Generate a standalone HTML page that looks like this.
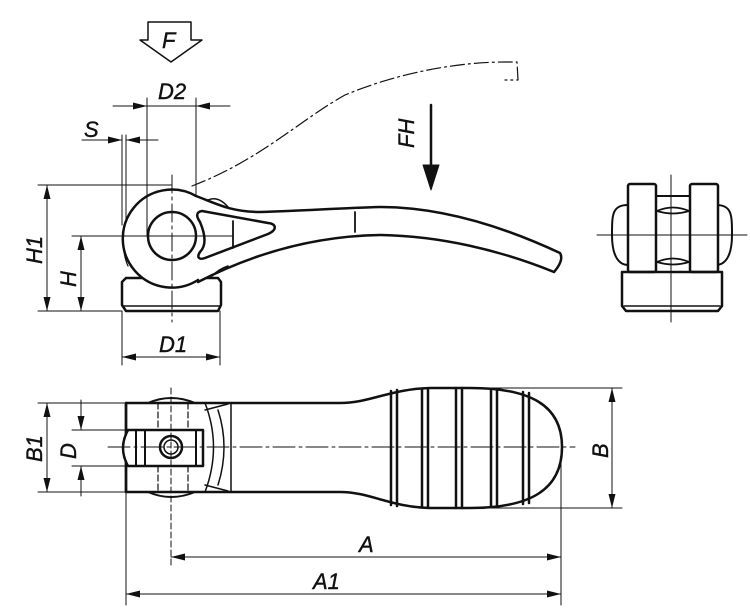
<!DOCTYPE html>
<html><head><meta charset="utf-8"><style>
html,body{margin:0;padding:0;background:#fff;}
svg{display:block}
text{font-family:"Liberation Sans Narrow","Liberation Sans",sans-serif;font-style:italic;font-size:22px;fill:#111;stroke:#111;stroke-width:0.4}
</style></head><body>
<svg width="750" height="608" viewBox="0 0 750 608" xmlns="http://www.w3.org/2000/svg">
<defs>
<marker id="ar" viewBox="0 0 10 10" refX="10" refY="5" markerWidth="14" markerHeight="7" markerUnits="userSpaceOnUse" orient="auto-start-reverse" preserveAspectRatio="none"><path d="M0,0 L10,5 L0,10 z" fill="#111"/></marker>
</defs>
<g stroke="#111" fill="none" stroke-linecap="round" stroke-linejoin="round">
<!-- F arrow -->
<path d="M148,22 H191 V40 H202 L171,62 L140,40 H148 Z" stroke-width="1.5"/>
<!-- phantom lever -->
<path d="M192,186 C260,160 300,120 345,95 C400,72 460,62 505,62 L517,62 L518,80 L505,80" stroke-width="1.2" stroke-dasharray="14,4,2,4"/>
<!-- FH arrow -->
<line x1="431" y1="105" x2="431" y2="170" stroke-width="2.5"/>
<path d="M423,165 L439,165 L431,190 Z" fill="#111" stroke-width="1"/>
<!-- side view: base -->
<path d="M126,278 H218 L221,282 V305 L218,311 H126 L122,305 V282 Z" stroke-width="2.5"/>
<line x1="124" y1="306" x2="220" y2="306" stroke-width="1.5"/>
<!-- lever -->
<path d="M196,196 C215,203 230,212 260,212 C300,211 340,208 380,207 C440,207 500,225 560,253 C563,258 560,265 554,272 C500,250 440,236 380,235 C320,236 260,250 198,282" stroke-width="2.5" fill="#fff"/>
<path d="M208,200 C215,197 222,200 228,207" stroke-width="1.5"/>
<path d="M212,276 C216,272 222,268 228,266" stroke-width="1.5"/>
<!-- cam outline -->
<path d="M196,196 A49,49 0 1 0 198,280" stroke-width="2.5" fill="#fff"/>
<circle cx="172" cy="236" r="24" stroke-width="2.5"/>
<path d="M125,222 C122,240 123,255 128,266" stroke-width="1.2"/>
<!-- triangle cutout -->
<path d="M202,211 C196,212 196,216 200,222 C206,236 206,246 200,252 C196,258 200,260 205,258 L268,234 C277,230 277,224 268,223 Z" stroke-width="2.5" fill="#fff"/>
<line x1="233" y1="221" x2="233" y2="248" stroke-width="1.8"/>
<line x1="355" y1="212" x2="355" y2="232" stroke-width="1.8"/>
<!-- centerlines -->
<g stroke-width="1">
<line x1="172" y1="175" x2="172" y2="322" stroke-dasharray="18,4,3,4"/>
<line x1="140" y1="236" x2="232" y2="236"/>
</g>
<!-- dims side -->
<g stroke-width="1">
<line x1="38" y1="185" x2="172" y2="185"/>
<line x1="38" y1="311" x2="122" y2="311"/>
<line x1="72" y1="236" x2="148" y2="236"/>
<line x1="47" y1="185" x2="47" y2="311" marker-start="url(#ar)" marker-end="url(#ar)"/>
<line x1="81" y1="236" x2="81" y2="311" marker-start="url(#ar)" marker-end="url(#ar)"/>
<line x1="147" y1="98" x2="147" y2="236"/>
<line x1="196" y1="98" x2="196" y2="196"/>
<line x1="113" y1="106" x2="147" y2="106" marker-end="url(#ar)"/>
<line x1="147" y1="106" x2="196" y2="106"/>
<line x1="230" y1="106" x2="196" y2="106" marker-end="url(#ar)"/>
<line x1="122" y1="135" x2="122" y2="225"/>
<line x1="126" y1="135" x2="126" y2="220"/>
<line x1="82" y1="140" x2="122" y2="140" marker-end="url(#ar)"/>
<line x1="158" y1="140" x2="126" y2="140" marker-end="url(#ar)"/>
<line x1="122" y1="311" x2="122" y2="365"/>
<line x1="220" y1="311" x2="220" y2="365"/>
<line x1="122" y1="357" x2="220" y2="357" marker-start="url(#ar)" marker-end="url(#ar)"/>
</g>
<!-- right view -->
<path d="M628,205 C612,205 612,215 612,235 C612,258 620,265 628,265 M716,205 C732,205 732,215 732,235 C732,258 724,265 716,265" stroke-width="2"/>
<rect x="628" y="184" width="28" height="88" rx="2" stroke-width="2.5" fill="#fff"/>
<rect x="690" y="184" width="28" height="88" rx="2" stroke-width="2.5" fill="#fff"/>
<line x1="656" y1="196" x2="690" y2="196" stroke-width="2"/>
<path d="M657,211 Q673,204 689,211 Q673,216 657,211 M657,262 Q673,255 689,262 Q673,267 657,262" stroke-width="1.8"/>
<path d="M626,272 H722 V306 L718,311 H626 L622,306 V272 Z" stroke-width="2.5"/>
<line x1="624" y1="306" x2="720" y2="306" stroke-width="1.5"/>
<line x1="597" y1="235" x2="747" y2="235" stroke-width="1"/>
<line x1="671" y1="175" x2="671" y2="322" stroke-width="1"/>
<!-- bottom view -->
<path d="M148,403 Q171,393 195,403 M148,492 Q171,502 195,492" stroke-width="2"/>
<path d="M126,403 H340 C370,403 390,389 430,388 H470 C530,388 562,405 562,447 C562,490 530,508 470,508 H430 C390,507 370,492 340,492 H126 Z" stroke-width="2.5" fill="none"/>
<line x1="126" y1="403" x2="126" y2="492" stroke-width="2.5"/>
<path d="M205,403 L231,403 L231,492 L205,492 Q222,447 205,403 M205,410 L228,404 M205,485 L228,491 M218,410 Q230,447 218,485" stroke-width="1.5"/>
<g stroke-width="1.2"><line x1="158" y1="403" x2="158" y2="492" stroke-dasharray="6,3"/><line x1="188" y1="403" x2="188" y2="492" stroke-dasharray="6,3"/></g>
<path d="M128,430 H203 V466 H128 Q118,448 128,430" stroke-width="2.5" fill="#fff"/>
<g stroke-width="2"><line x1="136" y1="430" x2="136" y2="466"/><line x1="145" y1="430" x2="145" y2="466"/><line x1="196" y1="430" x2="196" y2="466"/></g>
<circle cx="171" cy="447" r="11" stroke-width="2.5" fill="#fff"/>
<circle cx="171" cy="447" r="7" stroke-width="1.5"/>
<g stroke-width="2.5">
<line x1="391" y1="391" x2="391" y2="505"/><line x1="397" y1="390" x2="397" y2="506"/>
<line x1="422" y1="389" x2="422" y2="507"/><line x1="428" y1="389" x2="428" y2="507"/>
<line x1="456" y1="388" x2="456" y2="508"/><line x1="462" y1="388" x2="462" y2="508"/>
<line x1="491" y1="389" x2="491" y2="507"/><line x1="497" y1="389" x2="497" y2="507"/>
<line x1="523" y1="392" x2="523" y2="504"/><line x1="529" y1="393" x2="529" y2="503"/>
</g>
<line x1="108" y1="447" x2="575" y2="447" stroke-width="1" stroke-dasharray="22,4,3,4"/>
<line x1="171" y1="388" x2="171" y2="568" stroke-width="1" stroke-dasharray="6,3"/>
<!-- bottom dims -->
<g stroke-width="1">
<line x1="38" y1="403" x2="126" y2="403"/>
<line x1="38" y1="492" x2="126" y2="492"/>
<line x1="72" y1="430" x2="128" y2="430"/>
<line x1="72" y1="466" x2="128" y2="466"/>
<line x1="47" y1="403" x2="47" y2="492" marker-start="url(#ar)" marker-end="url(#ar)"/>
<line x1="81" y1="400" x2="81" y2="430" marker-end="url(#ar)"/>
<line x1="81" y1="496" x2="81" y2="466" marker-end="url(#ar)"/>
<line x1="470" y1="388" x2="622" y2="388"/>
<line x1="470" y1="508" x2="622" y2="508"/>
<line x1="612" y1="388" x2="612" y2="508" marker-start="url(#ar)" marker-end="url(#ar)"/>
<line x1="126" y1="480" x2="126" y2="605"/>
<line x1="561" y1="460" x2="561" y2="605"/>
<line x1="171" y1="557" x2="561" y2="557" marker-start="url(#ar)" marker-end="url(#ar)"/>
<line x1="126" y1="594" x2="561" y2="594" marker-start="url(#ar)" marker-end="url(#ar)"/>
</g>
</g>
<!-- labels -->
<text x="162" y="48" font-size="26">F</text>
<text x="158" y="99">D2</text>
<text x="84" y="137">S</text>
<text x="159" y="352">D1</text>
<text x="359" y="552">A</text>
<text x="313" y="589">A1</text>
<text transform="translate(42,264) rotate(-90)">H1</text>
<text transform="translate(76,287) rotate(-90)">H</text>
<text transform="translate(42,462) rotate(-90)">B1</text>
<text transform="translate(76,459) rotate(-90)">D</text>
<text transform="translate(608,458) rotate(-90)">B</text>
<text transform="translate(414,148) rotate(-90)">FH</text>
</svg>
</body></html>
